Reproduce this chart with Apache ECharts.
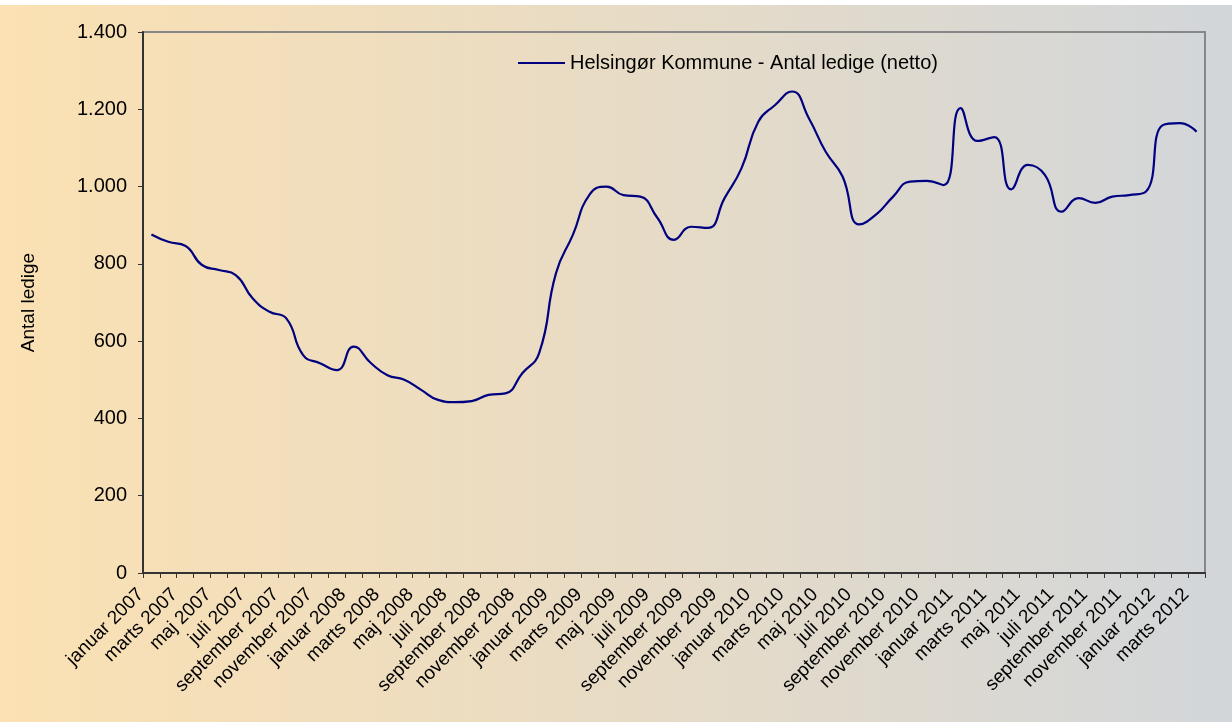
<!DOCTYPE html>
<html>
<head>
<meta charset="utf-8">
<script src="https://cdn.jsdelivr.net/npm/echarts@6/dist/echarts.min.js"></script>
<style>
  html, body { margin: 0; padding: 0; background: #ffffff; }
  #chart { position: absolute; left: 0; top: 5px; width: 1232px; height: 717px; }
</style>
</head>
<body>
<div id="chart"></div>
<script>
// ---- data ----
const monthNames = ['januar','februar','marts','april','maj','juni','juli','august','september','oktober','november','december'];
const years = [2007, 2008, 2009, 2010, 2011, 2012];
const monthCount = 63; // januar 2007 .. marts 2012
const seriesName = 'Helsingør Kommune - Antal ledige (netto)';
const values = [
  876, 857, 847, 797, 784, 771, 711, 676, 659, 564,
  543, 525, 586, 544, 512, 500, 474, 448, 442, 445,
  461, 465, 517, 569, 776, 875, 980, 1000, 978, 974,
  920, 862, 896, 893, 970, 1047, 1168, 1211, 1246, 1177,
  1090, 1026, 902, 928, 974, 1013, 1015, 1004, 1203, 1118,
  1128, 993, 1056, 1030, 935, 970, 958, 974, 978, 987,
  1159, 1164, 1142
];
const yTicks = [0, 200, 400, 600, 800, 1000, 1200, 1400];

const categories = [];
for (const y of years) {
  for (const m of monthNames) {
    if (categories.length < monthCount) categories.push(m + ' ' + y);
  }
}

function fmt(v) {
  return String(v).replace(/\B(?=(\d{3})+(?!\d))/g, '.');
}

const chart = echarts.init(document.getElementById('chart'));
const FONT = 'Liberation Sans, Arial, sans-serif';
chart.setOption({
  animation: false,
  backgroundColor: {
    type: 'linear', x: 0, y: 0, x2: 1, y2: 0,
    colorStops: [
      { offset: 0, color: '#FBE1B3' },
      { offset: 0.45, color: '#EADCC3' },
      { offset: 1, color: '#D2D6DA' }
    ]
  },
  textStyle: { fontFamily: FONT },
  grid: {
    left: 143, right: 27, top: 27, bottom: 149,
    show: true, borderColor: '#888888', borderWidth: 2,
    backgroundColor: 'transparent'
  },
  legend: {
    left: 518, top: 48, padding: 0,
    icon: 'rect', itemWidth: 47, itemHeight: 2,
    textStyle: { fontFamily: FONT, fontSize: 20, color: '#000' },
    data: [seriesName]
  },
  xAxis: {
    type: 'category',
    data: categories,
    boundaryGap: true,
    axisLine: { lineStyle: { color: '#333', width: 2 } },
    axisTick: { show: true, interval: 0, alignWithLabel: false, length: 5, lineStyle: { color: '#333', width: 1 } },
    axisLabel: { interval: 1, rotate: 45, margin: 8, padding: [0, 15, 31, 0], fontSize: 19, fontFamily: FONT, color: '#000' },
    splitLine: { show: false }
  },
  yAxis: {
    type: 'value',
    min: yTicks[0], max: yTicks[yTicks.length - 1], interval: 200,
    name: 'Antal ledige',
    nameLocation: 'middle',
    nameGap: 105,
    nameTextStyle: { fontSize: 19, fontFamily: FONT, color: '#000' },
    axisLine: { show: true, lineStyle: { color: '#333', width: 2 } },
    axisTick: { show: true, length: 5, lineStyle: { color: '#333', width: 1 } },
    axisLabel: { fontSize: 20, fontFamily: FONT, color: '#000', margin: 16, formatter: fmt },
    splitLine: { show: false }
  },
  series: [{
    name: seriesName,
    type: 'line',
    data: values,
    smooth: true,
    showSymbol: false,
    symbol: 'none',
    lineStyle: { color: '#000080', width: 2.2 },
    itemStyle: { color: '#000080' }
  }]
});
</script>
</body>
</html>
